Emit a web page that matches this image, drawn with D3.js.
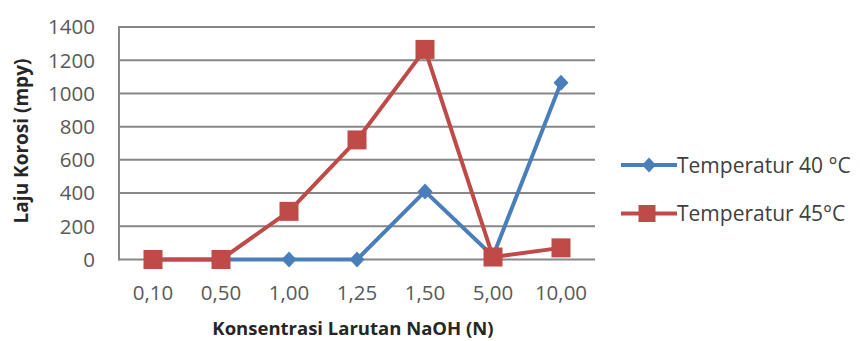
<!DOCTYPE html>
<html><head><meta charset="utf-8">
<script src="https://cdn.jsdelivr.net/npm/d3@7"></script>
<style>body{margin:0;background:#fff;} svg{display:block;}</style>
</head><body>
<svg id="c" width="860" height="341"></svg>
<script>
const categories = ["0,10","0,50","1,00","1,25","1,50","5,00","10,00"];
const temp40 = [0, 0, 0, 0, 410, 20, 1065];
const temp45 = [0, 0, 290, 720, 1265, 15, 70];
const yTicks = [0,200,400,600,800,1000,1200,1400];
const seriesNames = ["Temperatur 40 °C","Temperatur 45°C"];
const colors = ["#4a7ebb","#be4b48"];

const svg = d3.select("#c");
const font = "'Open Sans', sans-serif";
const m = {left:119, right:595, top:27, bottom:259.5};
const x = d3.scaleBand().domain(categories).range([m.left, m.right]);
const y = d3.scaleLinear().domain([0,1400]).range([m.bottom, m.top]);

// grid
svg.append("g").selectAll("line").data(yTicks).join("line")
  .attr("x1", m.left).attr("x2", m.right)
  .attr("y1", d=>y(d)).attr("y2", d=>y(d))
  .attr("stroke","#878787").attr("stroke-width",2);
svg.append("line").attr("x1",m.left).attr("x2",m.left).attr("y1",m.top-1).attr("y2",m.bottom+1)
  .attr("stroke","#878787").attr("stroke-width",2);

// y labels
svg.append("g").selectAll("text").data(yTicks).join("text")
  .attr("x", 95).attr("y", d=>y(d)).attr("dy","0.36em")
  .attr("text-anchor","end").attr("font-family",font).attr("font-size",20.5)
  .attr("fill","#595959").text(d=>d);

// x labels
svg.append("g").selectAll("text").data(categories).join("text")
  .attr("x", d=>x(d)+x.bandwidth()/2).attr("y", 293).attr("dy","0.36em")
  .attr("text-anchor","middle").attr("font-family",font).attr("font-size",20.5)
  .attr("fill","#595959").text(d=>d);

// axis titles
svg.append("text").attr("x",353).attr("y",328).attr("dy","0.36em")
  .attr("text-anchor","middle").attr("font-family",font).attr("font-weight","bold")
  .attr("font-size",18.5).attr("fill","#262626").text("Konsentrasi Larutan NaOH (N)");
svg.append("text").attr("transform","translate(21,141) rotate(-90)").attr("dy","0.36em")
  .attr("text-anchor","middle").attr("font-family",font).attr("font-weight","bold")
  .attr("font-size",19).attr("fill","#262626").text("Laju Korosi (mpy)");

const cx = (d,i)=>x(categories[i])+x.bandwidth()/2;
const line = d3.line().x((d,i)=>cx(d,i)).y(d=>y(d));

function drawDiamond(g, px, py, c, hw, hh){
  g.append("path").attr("d", `M${px},${py-hh}L${px+hw},${py}L${px},${py+hh}L${px-hw},${py}Z`).attr("fill",c);
}
function drawSquare(g, px, py, c, s){
  g.append("rect").attr("x",px-s/2).attr("y",py-s/2).attr("width",s).attr("height",s).attr("fill",c);
}

// series 40
const g1 = svg.append("g");
g1.append("path").datum(temp40).attr("d",line).attr("fill","none").attr("stroke",colors[0]).attr("stroke-width",4).attr("stroke-linejoin","round");
temp40.forEach((v,i)=>drawDiamond(g1, cx(v,i), y(v), colors[0], 7.5, 8));
// series 45
const g2 = svg.append("g");
g2.append("path").datum(temp45).attr("d",line).attr("fill","none").attr("stroke",colors[1]).attr("stroke-width",4).attr("stroke-linejoin","round");
temp45.forEach((v,i)=>drawSquare(g2, cx(v,i), y(v), colors[1], 19));

// legend
const leg = svg.append("g");
[0,1].forEach(i=>{
  const ly = i===0 ? 165 : 213.5;
  leg.append("line").attr("x1",621).attr("x2",677).attr("y1",ly).attr("y2",ly).attr("stroke",colors[i]).attr("stroke-width",4);
  if(i===0) drawDiamond(leg, 649, ly, colors[0], 7, 7.5); else drawSquare(leg, 647, ly, colors[1], 17);
  leg.append("text").attr("x",677).attr("y",ly).attr("dy","0.36em").attr("font-family",font)
    .attr("font-size",21).attr("fill","#404040").text(seriesNames[i]);
});
</script>
</body></html>
